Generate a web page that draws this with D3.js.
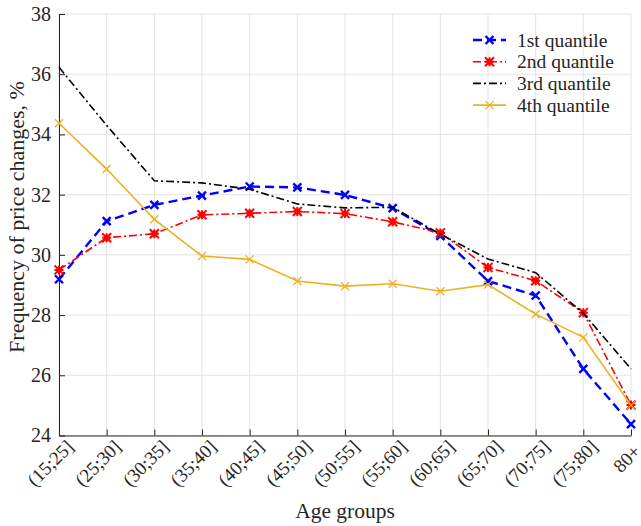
<!DOCTYPE html>
<html>
<head>
<meta charset="utf-8">
<script src="https://cdn.jsdelivr.net/npm/d3@7"></script>
<style>
body{margin:0;background:#fff;}
</style>
</head>
<body>
<div id="root"></div>
<script>
var groups=['(15;25]','(25;30]','(30;35]','(35;40]','(40;45]','(45;50]','(50;55]','(55;60]','(60;65]','(65;70]','(70;75]','(75;80]','80+'];
var q1=[29.19,31.12,31.66,31.97,32.27,32.24,31.99,31.55,30.63,29.13,28.65,26.21,24.38];
var q2=[29.50,30.57,30.70,31.33,31.38,31.44,31.37,31.10,30.73,29.58,29.14,28.08,25.01];
var q3=[36.23,34.30,32.46,32.39,32.18,31.69,31.56,31.58,30.69,29.86,29.41,28.06,26.21];
var q4=[34.37,32.85,31.18,29.96,29.85,29.13,28.96,29.04,28.79,29.01,28.03,27.26,25.00];
var seriesNames=['1st quantile','2nd quantile','3rd quantile','4th quantile'];
var yTicks=[24,26,28,30,32,34,36,38];

var FONT="'Liberation Serif','Times New Roman',Times,serif";
var b={t:14,r:10,b:90,l:59};
var W=641,H=526;
var w=631-b.l, h=435.5-b.t;

var svg=d3.select('#root').append('svg').attr('width',W).attr('height',H)
  .attr('font-family',FONT);
var g=svg.append('g').attr('transform','translate('+b.l+','+b.t+')');

var x=d3.scalePoint().domain(groups).range([0,w]);
var y=d3.scaleLinear().domain([24,38]).range([h,0]);

// grid
g.selectAll('.vg').data(groups).enter().append('line')
  .attr('x1',function(d){return x(d)}).attr('x2',function(d){return x(d)})
  .attr('y1',0).attr('y2',h).attr('stroke','#e3e3e3').attr('stroke-width',1);
g.selectAll('.hg').data(yTicks).enter().append('line')
  .attr('x1',0).attr('x2',w)
  .attr('y1',function(d){return y(d)}).attr('y2',function(d){return y(d)})
  .attr('stroke','#e3e3e3').attr('stroke-width',1);

// axes
var xAxis=d3.axisBottom(x).tickSizeInner(-6).tickSizeOuter(0).tickPadding(10);
var gx=g.append('g').attr('transform','translate(0,'+h+')').call(xAxis).attr('font-family',FONT);
gx.select('.domain').attr('stroke','#262626');
gx.selectAll('.tick line').attr('stroke','#262626');
gx.selectAll('text').style('font-size','19px').attr('fill','#262626')
  .style('text-anchor','end').attr('dx',function(d,i){return i==groups.length-1?'-0.25em':'0.1em'}).attr('dy','0.5em')
  .attr('transform','rotate(-45)');

var yAxis=d3.axisLeft(y).tickValues(yTicks).tickSizeInner(-6).tickSizeOuter(0).tickPadding(8);
var gy=g.append('g').call(yAxis).attr('font-family',FONT);
gy.select('.domain').attr('stroke','#262626');
gy.selectAll('.tick line').attr('stroke','#262626');
gy.selectAll('text').style('font-size','20px').attr('fill','#262626');

svg.append('text').attr('x',345).attr('y',518).attr('text-anchor','middle')
  .attr('fill','#262626').style('font-size','21.5px').text('Age groups');
svg.append('text').attr('transform','translate(24,217) rotate(-90)')
  .attr('fill','#262626').attr('text-anchor','middle').style('font-size','22px').text('Frequency of price changes, %');

var styles=[
  {vals:q1,color:'#0000ff',dash:'9,5',lw:2.4,marker:'x',mlw:2.4,ms:4},
  {vals:q2,color:'#ff0000',dash:'8,3,2,3',lw:1.6,marker:'*',mlw:2,ms:4.5},
  {vals:q3,color:'#000000',dash:'8,3,2,3',lw:1.6,marker:null},
  {vals:q4,color:'#EDB120',dash:null,lw:1.6,marker:'x',mlw:1.3,ms:4}
];

var line=d3.line().x(function(d,i){return x(groups[i])}).y(function(d){return y(d)});

function drawMarker(sel,s,cx,cy){
  var m=s.ms;
  var p='M'+(cx-m)+','+(cy-m)+'L'+(cx+m)+','+(cy+m)+'M'+(cx-m)+','+(cy+m)+'L'+(cx+m)+','+(cy-m);
  if(s.marker=='*'){
    p+='M'+(cx-m)+','+cy+'L'+(cx+m)+','+cy+'M'+cx+','+(cy-m)+'L'+cx+','+(cy+m);
  }
  sel.append('path').attr('d',p).attr('stroke',s.color).attr('stroke-width',s.mlw).attr('fill','none');
  if(s.marker=='*'){
    sel.append('circle').attr('cx',cx).attr('cy',cy).attr('r',3).attr('fill',s.color);
  }
}

styles.forEach(function(s){
  g.append('path').attr('d',line(s.vals)).attr('fill','none').attr('stroke',s.color)
    .attr('stroke-width',s.lw).attr('stroke-dasharray',s.dash);
  if(s.marker){
    var mg=g.append('g');
    s.vals.forEach(function(v,i){drawMarker(mg,s,x(groups[i]),y(v));});
  }
});

// legend
var lg=svg.append('g').attr('transform','translate(473,40)');
styles.forEach(function(s,i){
  var row=lg.append('g').attr('transform','translate(0,'+(i*21.7)+')');
  row.append('line').attr('x1',0).attr('x2',33).attr('y1',0).attr('y2',0)
    .attr('stroke',s.color).attr('stroke-width',s.lw).attr('stroke-dasharray',s.dash);
  if(s.marker) drawMarker(row,s,16.5,0);
  row.append('text').attr('x',44).attr('y',6.5).attr('fill','#262626').style('font-size','19.5px').text(seriesNames[i]);
});
</script>
</body>
</html>
